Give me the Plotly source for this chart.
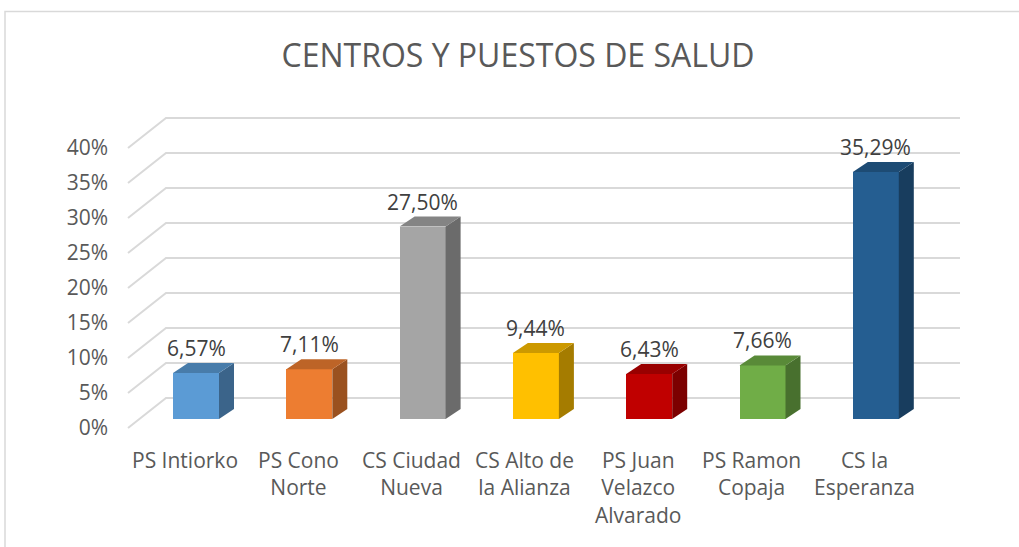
import plotly.graph_objects as go

# ---------------- data ----------------
categories = ["PS Intiorko", "PS Cono Norte", "CS Ciudad Nueva", "CS Alto de la Alianza",
              "PS Juan Velazco Alvarado", "PS Ramon Copaja", "CS la Esperanza"]
tick_labels = ["PS Intiorko", "PS Cono<br>Norte", "CS Ciudad<br>Nueva", "CS Alto de<br>la Alianza",
               "PS Juan<br>Velazco<br>Alvarado", "PS Ramon<br>Copaja", "CS la<br>Esperanza"]
values = [6.57, 7.11, 27.50, 9.44, 6.43, 7.66, 35.29]
y_ticks = [0, 5, 10, 15, 20, 25, 30, 35, 40]
y_tick_text = ["0%", "5%", "10%", "15%", "20%", "25%", "30%", "35%", "40%"]
title_text = "CENTROS Y PUESTOS DE SALUD"

# ---------------- style ----------------
base_colors = ["#5B9BD5", "#ED7D31", "#A5A5A5", "#FFC000", "#C00000", "#70AD47", "#255E91"]
W, H = 1019, 547
FONT = "Open Sans"
GRID = "#D9D9D9"

# pixel geometry -> data-space layout constants
STEP = 113.3      # px per category
X0 = 196.0        # px of category 0 centre
PXV = 7.0         # px per percentage point
BASE = 419.0      # px of bar base
BAR_W = 46 / STEP
DX = 15 / STEP
DV = 10 / PXV
FRONT_V = (BASE - 428) / PXV   # left wall front offset
BACK_V = (BASE - 398) / PXV    # back wall offset
X_FRONT_L = (128 - X0) / STEP
X_BACK_L = (166 - X0) / STEP
X_BACK_R = (960 - X0) / STEP
LABEL_DX = -11 / STEP
CAT_LABEL_V = (BASE - 444) / PXV

x_range = [(0 - X0) / STEP, (W - X0) / STEP]
y_range = [(BASE - H) / PXV, BASE / PXV]
y2_range = [(428 - H) / PXV, 428 / PXV]


def shade(hex_color, f):
    h = hex_color.lstrip("#")
    r, g, b = (int(h[i:i + 2], 16) for i in (0, 2, 4))
    return "#%02X%02X%02X" % (int(r * f), int(g * f), int(b * f))


fig = go.Figure()

shapes = []
# gridlines (left wall diagonal + back wall), drawn below traces
for g in y_ticks:
    shapes.append(dict(
        type="path", xref="x", yref="y", layer="below",
        path=f"M {X_FRONT_L},{g + FRONT_V} L {X_BACK_L},{g + BACK_V} L {X_BACK_R},{g + BACK_V}",
        line=dict(color=GRID, width=2)))

# chart border
shapes.append(dict(type="rect", xref="paper", yref="paper",
                   x0=5 / W, x1=1.02, y0=-0.02, y1=1 - 11.5 / H,
                   line=dict(color="#D9D9D9", width=1.5), fillcolor="rgba(0,0,0,0)", layer="below"))

xs = list(range(len(values)))

# front faces
fig.add_trace(go.Bar(
    x=xs, y=values, width=BAR_W,
    marker=dict(color=base_colors, line=dict(width=0)),
    hoverinfo="skip", showlegend=False))

# side + top faces
for i, v in enumerate(values):
    xr = i + BAR_W / 2
    xl = i - BAR_W / 2
    fig.add_trace(go.Scatter(
        x=[xr, xr + DX, xr + DX, xr, xr],
        y=[0, DV, v + DV, v, 0],
        fill="toself", fillcolor=shade(base_colors[i], 0.65),
        mode="lines", line=dict(width=0, color=shade(base_colors[i], 0.65)),
        hoverinfo="skip", showlegend=False))
    fig.add_trace(go.Scatter(
        x=[xl, xl + DX, xr + DX, xr, xl],
        y=[v, v + DV, v + DV, v, v],
        fill="toself", fillcolor=shade(base_colors[i], 0.8),
        mode="lines", line=dict(width=0, color=shade(base_colors[i], 0.8)),
        hoverinfo="skip", showlegend=False))

# invisible trace to activate y2
fig.add_trace(go.Scatter(x=[0], y=[0], yaxis="y2", mode="markers",
                         marker=dict(opacity=0), hoverinfo="skip", showlegend=False))

annotations = []
for i, v in enumerate(values):
    annotations.append(dict(
        x=i, y=v, xref="x", yref="y", yanchor="bottom", yshift=9,
        text=f"{v:.2f}".replace(".", ",") + "%", showarrow=False,
        font=dict(family=FONT, size=21, color="#404040")))
for i, lab in enumerate(tick_labels):
    annotations.append(dict(
        x=i + LABEL_DX, y=CAT_LABEL_V, xref="x", yref="y", yanchor="top",
        text=lab, showarrow=False, align="center",
        font=dict(family=FONT, size=21, color="#595959")))

fig.update_layout(
    width=W, height=H,
    margin=dict(l=0, r=0, t=0, b=0),
    paper_bgcolor="white", plot_bgcolor="white",
    title=dict(text=title_text, x=518 / W, xanchor="center", y=1 - 56 / H, yanchor="middle",
               font=dict(family=FONT, size=32, color="#595959")),
    xaxis=dict(range=x_range, visible=False, fixedrange=True),
    yaxis=dict(range=y_range, visible=False, fixedrange=True),
    yaxis2=dict(range=y2_range, overlaying="y", anchor="free", position=128 / W, side="left",
                tickmode="array", tickvals=y_ticks, ticktext=y_tick_text,
                showgrid=False, zeroline=False, showline=False, fixedrange=True,
                ticks="", ticklabelstandoff=20,
                tickfont=dict(family=FONT, size=21, color="#595959")),
    annotations=annotations,
    shapes=shapes,
    hovermode=False,
    bargap=0,
)

fig.write_html("out.html", config={"displayModeBar": False},
               post_script="document.body.style.margin='0px';")
